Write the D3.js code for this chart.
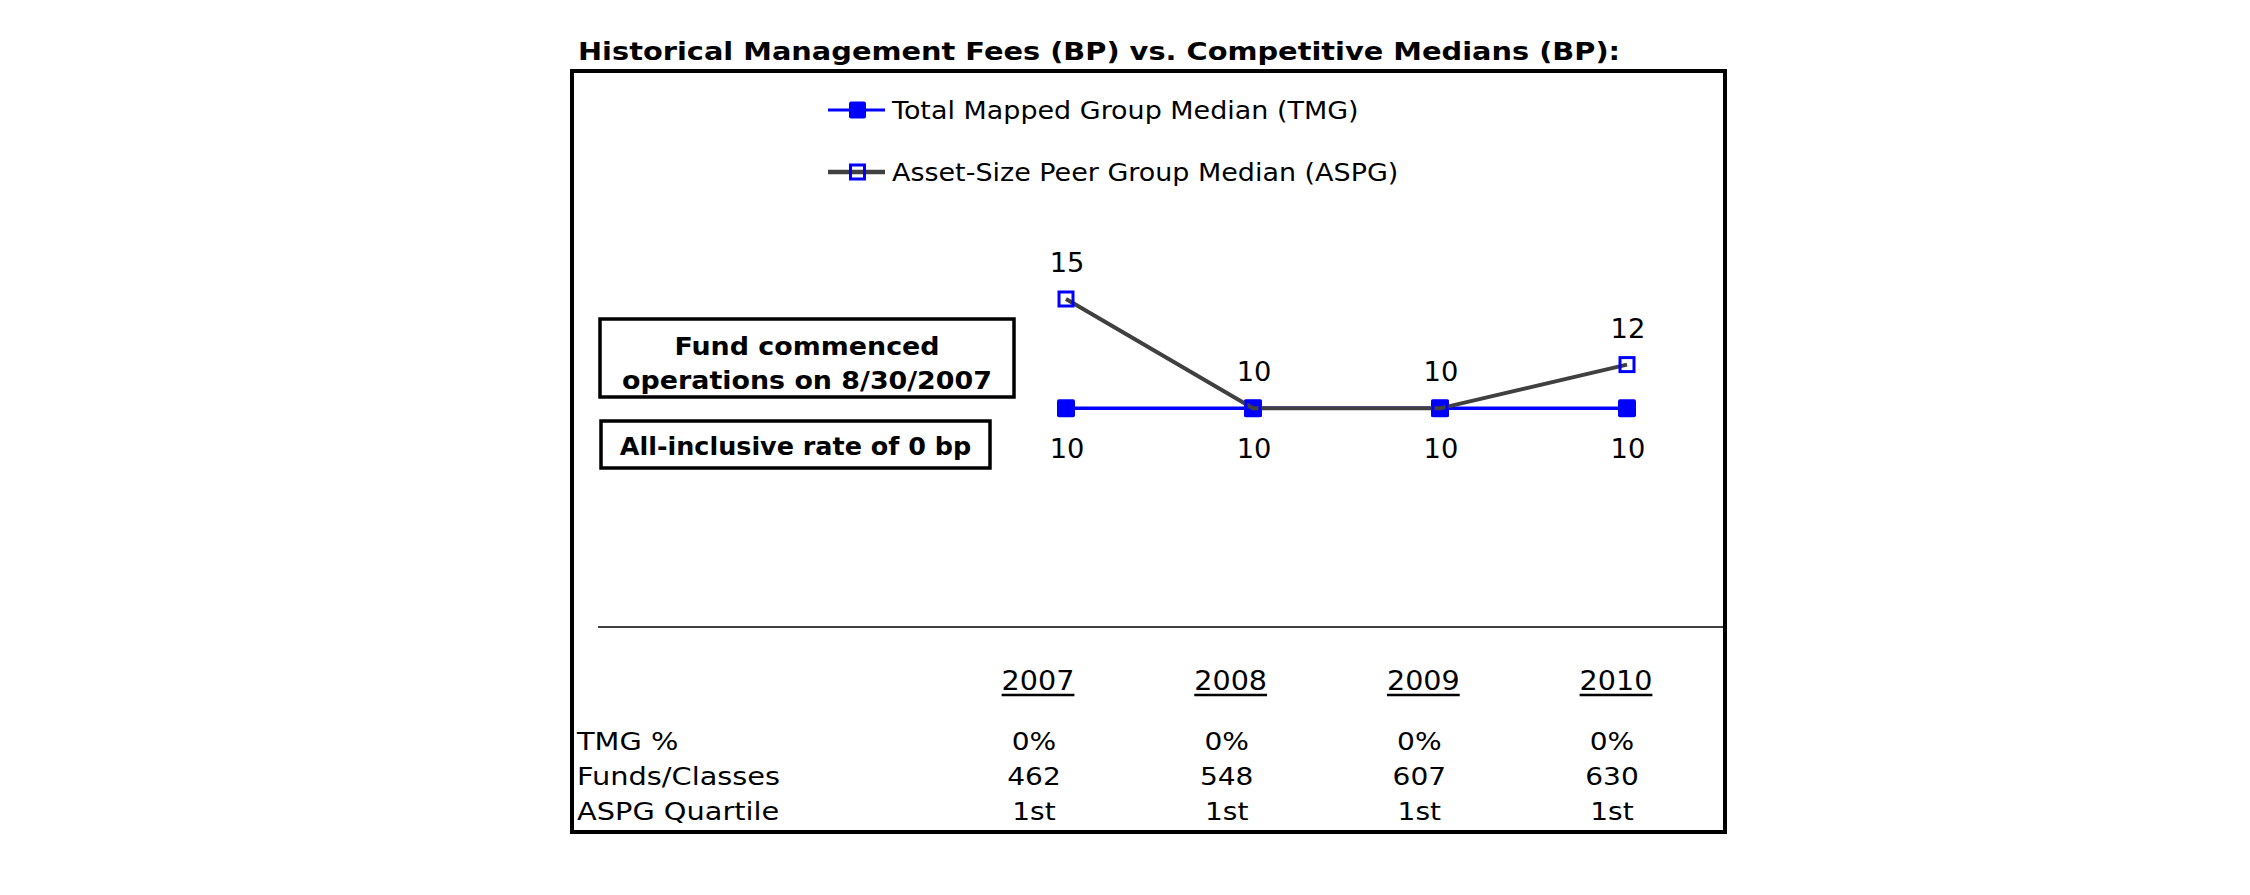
<!DOCTYPE html>
<html><head><meta charset="utf-8">
<script src="https://cdn.jsdelivr.net/npm/d3@7/dist/d3.min.js"></script>
<style>
html,body{margin:0;padding:0;background:#fff;}
svg{display:block;font-family:"DejaVu Sans",Verdana,sans-serif;}
</style></head>
<body><svg id="chart" width="2250" height="895"></svg>
<script>
const titleText = "Historical Management Fees (BP) vs. Competitive Medians (BP):";
const years = ["2007", "2008", "2009", "2010"];
const seriesNames = ["Total Mapped Group Median (TMG)", "Asset-Size Peer Group Median (ASPG)"];
const tmgValues = [10, 10, 10, 10];
const aspgValues = [15, 10, 10, 12];
const rowLabels = ["TMG %", "Funds/Classes", "ASPG Quartile"];
const tmgPct = ["0%", "0%", "0%", "0%"];
const fundsClasses = [462, 548, 607, 630];
const aspgQuartile = ["1st", "1st", "1st", "1st"];
const noteLines1 = ["Fund commenced", "operations on 8/30/2007"];
const noteLines2 = ["All-inclusive rate of 0 bp"];

const BLUE = "#0000FF", GRAY = "#404040";
const svg = d3.select("#chart");

function stretch(sel, k) {
  sel.each(function () {
    const w = this.getComputedTextLength();
    d3.select(this).attr("textLength", w * k).attr("lengthAdjust", "spacingAndGlyphs");
  });
}

// title
svg.append("text").attr("x", 578).attr("y", 60)
  .attr("font-size", 25.5).attr("font-weight", "bold").text(titleText)
  .call(stretch, 1.13);

// outer frame
svg.append("rect").attr("x", 572).attr("y", 71).attr("width", 1153).attr("height", 761)
  .attr("fill", "none").attr("stroke", "#000").attr("stroke-width", 4);

// scales
const x = d3.scalePoint().domain(years).range([1066, 1627]);
const y = d3.scaleLinear().domain([0, 15]).range([627, 299]);
const tx = d3.scalePoint().domain(years).range([1034, 1612]);

// baseline axis
svg.append("line").attr("x1", 598).attr("x2", 1723).attr("y1", y(0)).attr("y2", y(0))
  .attr("stroke", "#000").attr("stroke-width", 1.5);

// legend
const leg = svg.append("g");
const legRows = [
  { name: seriesNames[0], color: BLUE, w: 3, filled: true, cy: 110 },
  { name: seriesNames[1], color: GRAY, w: 4.5, filled: false, cy: 172 }
];
legRows.forEach(r => {
  leg.append("line").attr("x1", 828).attr("x2", 885).attr("y1", r.cy).attr("y2", r.cy)
    .attr("stroke", r.color).attr("stroke-width", r.w);
  if (r.filled) {
    leg.append("rect").attr("x", 849).attr("y", r.cy - 8.5).attr("width", 17).attr("height", 17)
      .attr("rx", 2).attr("fill", BLUE);
  } else {
    leg.append("rect").attr("x", 850.5).attr("y", r.cy - 7).attr("width", 14).attr("height", 14)
      .attr("fill", "none").attr("stroke", BLUE).attr("stroke-width", 3);
  }
  leg.append("text").attr("x", 892).attr("y", r.cy + 9).attr("font-size", 24.5)
    .text(r.name).call(stretch, 1.1);
});

// notes boxes
function noteBox(lines, x0, y0, w, h, baselines, k) {
  const g = svg.append("g");
  g.append("rect").attr("x", x0).attr("y", y0).attr("width", w).attr("height", h)
    .attr("fill", "#fff").attr("stroke", "#000").attr("stroke-width", 3.5);
  lines.forEach((t, i) => {
    g.append("text").attr("x", x0 + w / 2).attr("y", baselines[i]).attr("text-anchor", "middle")
      .attr("font-size", 24).attr("font-weight", "bold").text(t).call(stretch, k);
  });
}
noteBox(noteLines1, 600, 319, 414, 78, [355, 389], 1.12);
noteBox(noteLines2, 601, 421, 389, 47, [455], 1.06);

// series lines
const tmgData = years.map((d, i) => ({ year: d, v: tmgValues[i] }));
const aspgData = years.map((d, i) => ({ year: d, v: aspgValues[i] }));
const lineGen = d3.line().x(d => x(d.year)).y(d => y(d.v));

svg.append("path").datum(tmgData).attr("d", lineGen).attr("fill", "none")
  .attr("stroke", BLUE).attr("stroke-width", 3.5);
svg.selectAll(".tmgm").data(tmgData).enter().append("rect")
  .attr("x", d => x(d.year) - 9).attr("y", d => y(d.v) - 9).attr("width", 18).attr("height", 18)
  .attr("rx", 2).attr("fill", BLUE);
svg.append("path").datum(aspgData).attr("d", lineGen).attr("fill", "none")
  .attr("stroke", GRAY).attr("stroke-width", 4);
svg.selectAll(".aspgm").data(aspgData).enter().append("rect")
  .attr("x", d => x(d.year) - 7).attr("y", d => y(d.v) - 7).attr("width", 14).attr("height", 14)
  .attr("fill", "none").attr("stroke", BLUE).attr("stroke-width", 3);

// data labels
svg.selectAll(".aspgl").data(aspgData).enter().append("text")
  .attr("x", d => x(d.year) + 1).attr("y", d => y(d.v) - 27).attr("text-anchor", "middle")
  .attr("font-size", 26).text(d => d.v).call(stretch, 1.05);
svg.selectAll(".tmgl").data(tmgData).enter().append("text")
  .attr("x", d => x(d.year) + 1).attr("y", d => y(d.v) + 50).attr("text-anchor", "middle")
  .attr("font-size", 26).text(d => d.v).call(stretch, 1.05);

// table
const hdr = svg.selectAll(".yr").data(years).enter().append("g");
hdr.append("text").attr("x", d => tx(d) + 4).attr("y", 690).attr("text-anchor", "middle")
  .attr("font-size", 26).text(d => d).call(stretch, 1.1);
hdr.each(function (d) {
  const t = d3.select(this).select("text").node();
  const w = +t.getAttribute("textLength");
  d3.select(this).append("line").attr("x1", tx(d) + 4 - w / 2).attr("x2", tx(d) + 4 + w / 2)
    .attr("y1", 695).attr("y2", 695).attr("stroke", "#000").attr("stroke-width", 2.5);
});
const rows = [tmgPct, fundsClasses, aspgQuartile];
const rowY = [750, 785, 820];
rows.forEach((vals, r) => {
  svg.append("text").attr("x", 577).attr("y", rowY[r]).attr("font-size", 25.5)
    .text(rowLabels[r]).call(stretch, 1.13);
  svg.selectAll(".r" + r).data(vals).enter().append("text")
    .attr("x", (d, i) => tx(years[i])).attr("y", rowY[r]).attr("text-anchor", "middle")
    .attr("font-size", 25.5).text(d => d).call(stretch, 1.1);
});
</script></body></html>
